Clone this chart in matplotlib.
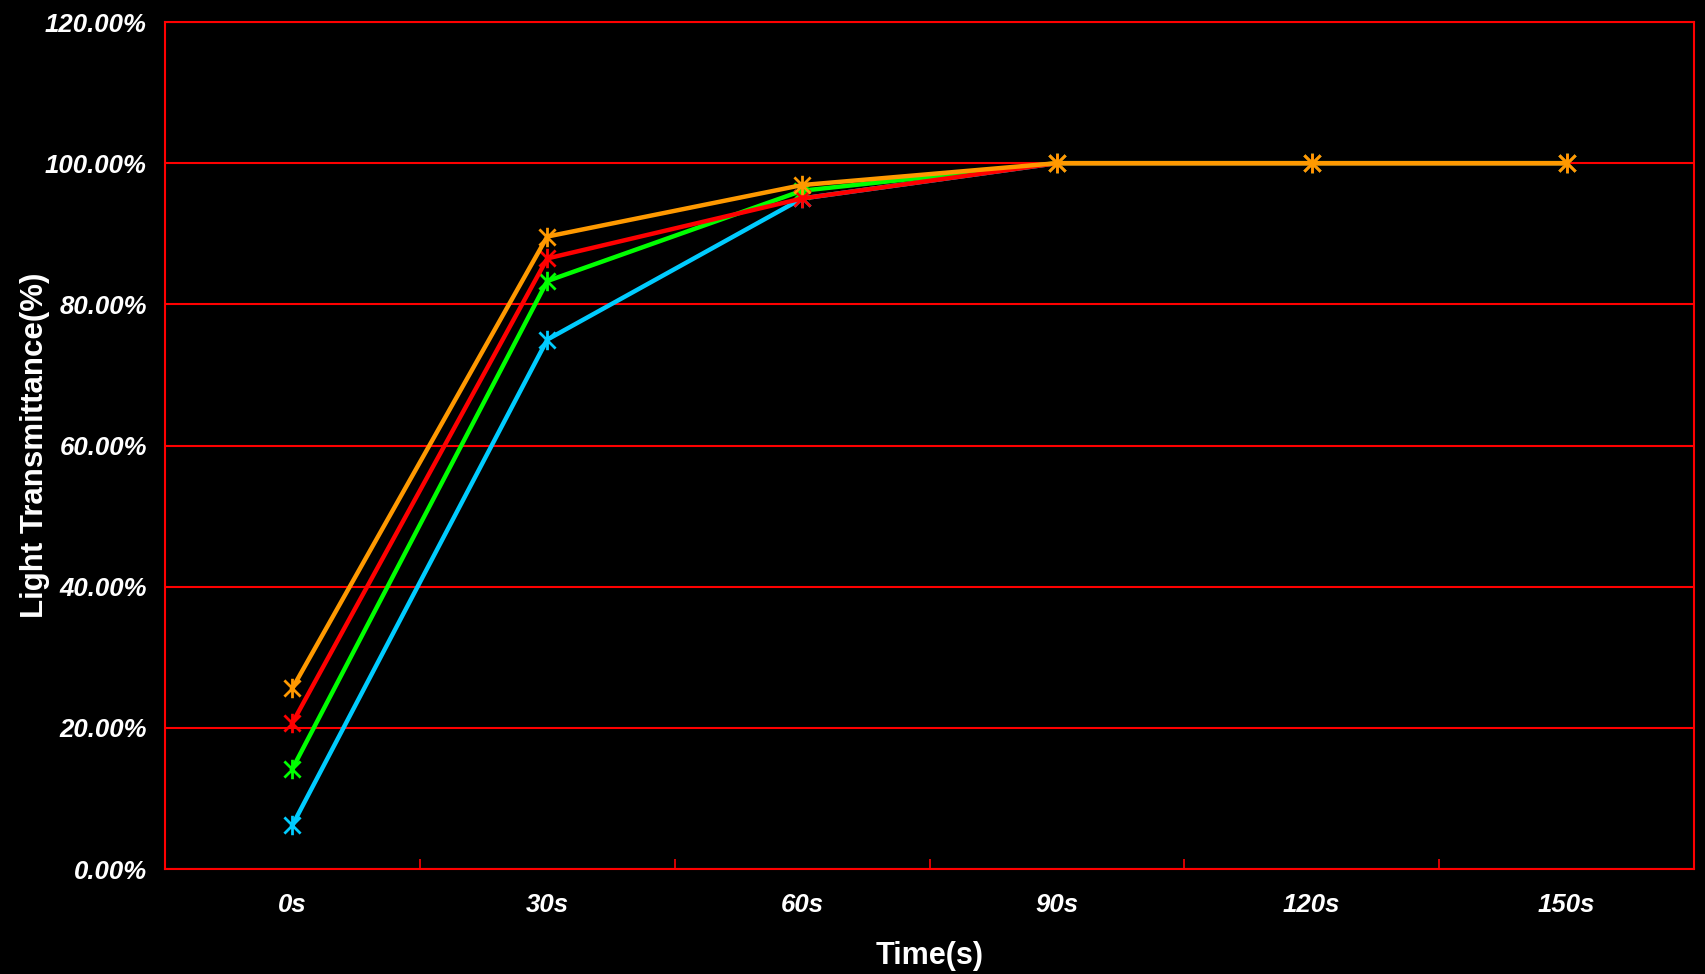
import matplotlib
matplotlib.use("Agg")
import matplotlib.pyplot as plt
from matplotlib.path import Path
from matplotlib.ticker import FixedLocator, PercentFormatter

# ==========================================
# Data
# ==========================================

times = ["0s", "30s", "60s", "90s", "120s", "150s"]

cyan_vals = [6.2, 75.0, 95.0, 100.0, 100.0, 100.0]
green_vals = [14.2, 83.3, 96.1, 100.0, 100.0, 100.0]
red_vals = [20.7, 86.5, 95.0, 100.0, 100.0, 100.0]
orange_vals = [25.6, 89.6, 96.9, 100.0, 100.0, 100.0]

series = [
    (cyan_vals, "#00CCFF"),
    (green_vals, "#00FF00"),
    (red_vals, "#FF0000"),
    (orange_vals, "#FF9900"),
]

# star marker: X with a vertical bar through it
star = Path(
    [(-1, -1), (1, 1), (-1, 1), (1, -1), (0, -1.2), (0, 1.2)],
    [Path.MOVETO, Path.LINETO, Path.MOVETO, Path.LINETO,
     Path.MOVETO, Path.LINETO]
)

plt.rcParams["font.family"] = ["Liberation Sans", "DejaVu Sans"]

fig = plt.figure(figsize=(17.06, 9.74), dpi=100, facecolor="black")
ax = fig.add_axes([0.0967, 0.1078, 0.8963, 0.8696], facecolor="black")

x = list(range(len(times)))

for vals, color in series:
    ax.plot(
        x, vals,
        color=color,
        linewidth=3.2,
        marker=star,
        markersize=14,
        markeredgewidth=2,
        markeredgecolor=color
    )

ax.set_xlim(-0.5, len(times) - 0.5)
ax.set_ylim(0, 120)

ax.set_yticks(range(0, 121, 20))
ax.yaxis.set_major_formatter(PercentFormatter(decimals=2))
ax.grid(axis="y", color="#FF0000", linewidth=1.5)
ax.set_axisbelow(True)

ax.set_xticks(x)
ax.set_xticklabels(times)
ax.xaxis.set_minor_locator(FixedLocator([i + 0.5 for i in x[:-1]]))
ax.tick_params(axis="x", which="major", length=0, pad=17)
ax.tick_params(axis="x", which="minor", direction="in",
               length=7, width=1.2, color="#FF0000")
ax.tick_params(axis="y", length=0, pad=13)

for lbl in ax.get_xticklabels() + ax.get_yticklabels():
    lbl.set_color("white")
    lbl.set_fontsize(18.5)
    lbl.set_fontweight("bold")
    lbl.set_fontstyle("italic")

for spine in ax.spines.values():
    spine.set_color("#FF0000")
    spine.set_linewidth(1.5)

ax.set_xlabel("Time(s)", color="white", fontsize=22, fontweight="bold")
ax.set_ylabel("Light Transmittance(%)", color="white", fontsize=22.5,
              fontweight="bold")
ax.xaxis.set_label_coords(0.5, -0.103)
ax.yaxis.set_label_coords(-0.085, 0.5)
ax.yaxis.label.set_verticalalignment("center")
ax.xaxis.label.set_verticalalignment("center")

fig.savefig("out.png", dpi=100, facecolor="black")
